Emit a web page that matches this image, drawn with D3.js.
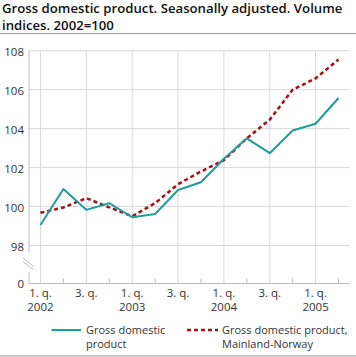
<!DOCTYPE html>
<html><head><meta charset="utf-8">
<script src="https://cdn.jsdelivr.net/npm/d3@7"></script>
<style>
body{margin:0;background:#fff;}
svg{display:block;font-family:"Open Sans",sans-serif;}
</style></head><body>
<svg id="c" width="356" height="357"></svg>
<script>
const quarters = ["2002Q1","2002Q2","2002Q3","2002Q4","2003Q1","2003Q2","2003Q3","2003Q4","2004Q1","2004Q2","2004Q3","2004Q4","2005Q1","2005Q2"];
const gdp = [99.05,100.9,99.83,100.17,99.45,99.62,100.85,101.25,102.45,103.5,102.74,103.9,104.25,105.57];
const mainland = [99.68,99.95,100.43,99.96,99.5,100.17,101.15,101.8,102.38,103.5,104.46,106.0,106.58,107.55];
const yTicks = [98,100,102,104,106,108];
const xLabels = [["1. q.","2002"],["3. q.",""],["1. q.","2003"],["3. q.",""],["1. q.","2004"],["3. q.",""],["1. q.","2005"]];
const titleLines = ["Gross domestic product. Seasonally adjusted. Volume","indices. 2002=100"];
const seriesNames = [["Gross domestic","product"],["Gross domestic product,","Mainland-Norway"]];

const svg = d3.select("#c");
const grid = "#d9d9d9", axisC = "#bdbdbd", txt = "#333";
const x = d3.scaleLinear().domain([-0.5, 13.5]).range([29, 350]);
const y = d3.scaleLinear().domain([98, 108]).range([245.5, 50.7]);
const yZero = 283.5;

// title
svg.selectAll("text.title").data(titleLines).join("text")
  .attr("x", 2).attr("y", (d,i)=>13+i*16.5)
  .attr("font-size", 13.2).attr("font-weight", 600).attr("fill", "#111").text(d=>d);
svg.append("line").attr("x1",0).attr("x2",356).attr("y1",33.5).attr("y2",33.5).attr("stroke","#999").attr("stroke-width",1);
svg.append("line").attr("x1",0).attr("x2",356).attr("y1",356).attr("y2",356).attr("stroke","#999").attr("stroke-width",1);

// horizontal grid
svg.append("g").selectAll("line").data(yTicks).join("line")
  .attr("x1", 29).attr("x2", 350).attr("y1", d=>y(d)).attr("y2", d=>y(d))
  .attr("stroke", grid).attr("stroke-width", 1);
// vertical grid at Q1/Q3
const major = d3.range(0, 14, 2);
svg.append("g").selectAll("line").data(major).join("line")
  .attr("x1", d=>x(d)).attr("x2", d=>x(d)).attr("y1", y(108)).attr("y2", yZero)
  .attr("stroke", grid).attr("stroke-width", 1);
// minor ticks
svg.append("g").selectAll("line").data(d3.range(1, 14, 2)).join("line")
  .attr("x1", d=>x(d)).attr("x2", d=>x(d)).attr("y1", yZero-5).attr("y2", yZero)
  .attr("stroke", axisC).attr("stroke-width", 1);
// baseline (0)
svg.append("line").attr("x1",29).attr("x2",350).attr("y1",yZero).attr("y2",yZero).attr("stroke",axisC);
// left axis with break
svg.append("line").attr("x1",29).attr("x2",29).attr("y1",y(108)).attr("y2",252).attr("stroke",axisC);
svg.append("line").attr("x1",29).attr("x2",29).attr("y1",272).attr("y2",yZero).attr("stroke",axisC);
svg.append("line").attr("x1",23).attr("x2",33).attr("y1",258).attr("y2",266).attr("stroke",axisC);
svg.append("line").attr("x1",23).attr("x2",33).attr("y1",261.5).attr("y2",269.5).attr("stroke",axisC);

// y labels
svg.append("g").selectAll("text").data(yTicks).join("text")
  .attr("x", 24).attr("y", d=>y(d)+5).attr("text-anchor","end")
  .attr("font-size", 11.5).attr("fill", txt).text(d=>d);
svg.append("text").attr("x",24).attr("y",yZero+4.5).attr("text-anchor","end")
  .attr("font-size",11.5).attr("fill",txt).text("0");

// x labels
const xl = svg.append("g").selectAll("text").data(xLabels).join("text")
  .attr("font-size", 11.5).attr("fill", txt).attr("text-anchor","middle");
xl.append("tspan").attr("x",(d,i)=>x(i*2)).attr("y",297).text(d=>d[0]);
xl.append("tspan").attr("x",(d,i)=>x(i*2)).attr("y",310.5).text(d=>d[1]);

// lines
const line = d3.line().x((d,i)=>x(i)).y(d=>y(d));
svg.append("path").datum(mainland).attr("d", line).attr("fill","none")
  .attr("stroke","#a50f15").attr("stroke-width",2.5).attr("stroke-dasharray","4,3");
svg.append("path").datum(gdp).attr("d", line).attr("fill","none")
  .attr("stroke","#1f9e99").attr("stroke-width",2).attr("stroke-linejoin","round");

// legend
const lg = svg.append("g");
lg.append("line").attr("x1",51.5).attr("x2",81).attr("y1",330).attr("y2",330).attr("stroke","#1f9e99").attr("stroke-width",2);
lg.append("line").attr("x1",187).attr("x2",218).attr("y1",330).attr("y2",330).attr("stroke","#a50f15").attr("stroke-width",2.5).attr("stroke-dasharray","4,3");
const lt = lg.selectAll("text").data(seriesNames).join("text")
  .attr("font-size",11).attr("fill",txt);
lt.append("tspan").attr("x",(d,i)=>i?222:86).attr("y",334).text(d=>d[0]);
lt.append("tspan").attr("x",(d,i)=>i?222:86).attr("y",347.5).text(d=>d[1]);
</script>
</body></html>
